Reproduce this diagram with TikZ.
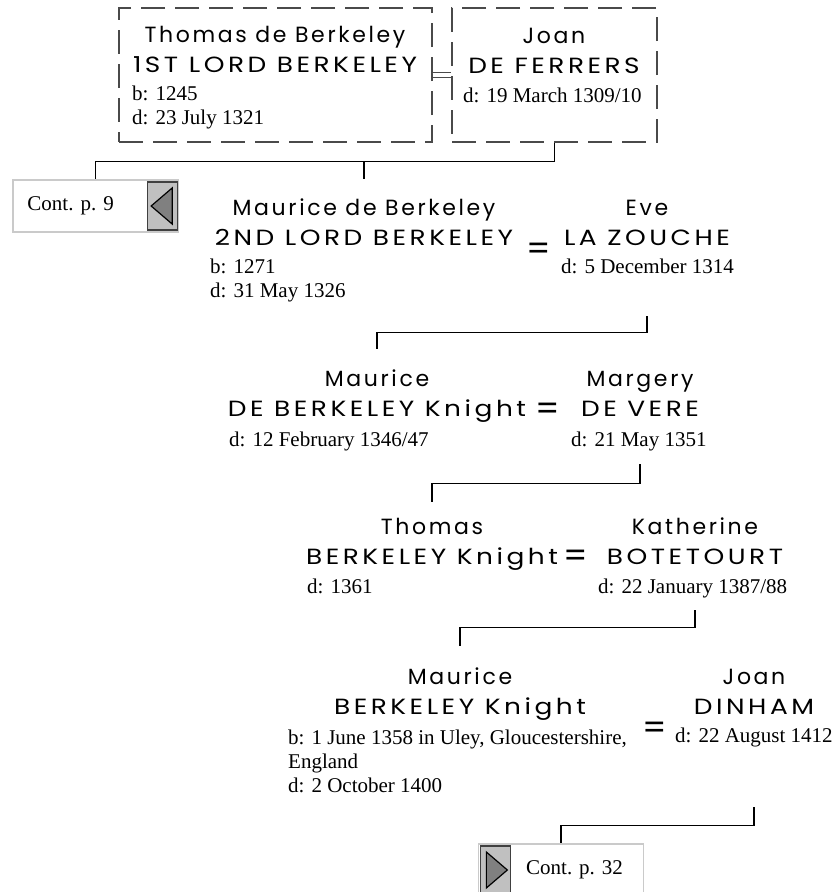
\documentclass[tikz,border=0pt]{standalone}
\usepackage{xcolor}
\usepackage{fontspec}
\setmainfont{Liberation Serif}
\newfontfamily\namefont{Poppins}[LetterSpace=12]
\newfontfamily\surfont{Poppins}[FakeStretch=1.2, LetterSpace=16]
\usepackage{tikz}
\usetikzlibrary{positioning, arrows.meta}
\definecolor{btngray}{HTML}{C0C0C0}
\definecolor{tipgray}{HTML}{808080}
\definecolor{framegray}{HTML}{CACACA}
\definecolor{dashgray}{HTML}{4A4A4A}

\newcommand\sur[1]{{\surfont #1}}

\tikzset{
  names/.style={font={\namefont\fontsize{22}{30}\selectfont}, align=center, anchor=base, inner sep=0pt},
  dates/.style={font={\fontsize{21}{24}\selectfont}, align=left, anchor=base west, inner sep=0pt},
  wed/.style={font={\namefont\fontsize{34}{34}\selectfont}, inner sep=0pt},
  famebox/.style={draw=dashgray, line width=1.3pt, dash pattern=on 24pt off 10pt,
                  minimum height=134pt, inner sep=0pt},
  wedline/.style={draw=dashgray, double, double distance=4.5pt, line width=0.8pt},
  famline/.style={draw, line width=1.4pt},
  contbox/.style={draw=framegray, line width=1.5pt, fill=white,
                  minimum width=165pt, minimum height=52pt, inner sep=0pt},
  navbtn/.style={draw=black!75, line width=1.2pt, fill=btngray,
                 minimum width=30pt, minimum height=48pt, inner sep=0pt},
  navtip/.style={draw=black, line width=1.2pt, fill=tipgray, line join=miter},
  conttext/.style={font={\fontsize{21}{24}\selectfont}, anchor=west, inner sep=0pt}
}

\begin{document}
\begin{tikzpicture}[x=1pt, y=1pt]
    \useasboundingbox (0,0) rectangle (840,-892);

    \node[famebox, minimum width=313pt] (tbox) at (275.5,-75) {};
    \node[famebox, minimum width=205pt] (jbox) at (554.5,-75) {};
    \draw[wedline] (tbox.east) -- (jbox.west);
    \node[names] (thomas) at (275,-72) {Thomas de Berkeley\\\sur{1ST LORD BERKELEY}};
    \node[dates] (thomasd) at (132,-124) {b: 1245\\d: 23 July 1321};
    \node[names] (joan) at (554,-73) {Joan\\\sur{DE FERRERS}};
    \node[dates] (joand) at (463,-102) {d: 19 March 1309/10};

    \node[contbox] (cont9) at (95.5,-206) {};
    \node[navbtn, left=1pt of cont9.east] (back9) {};
    \draw[navtip] ([xshift=-11pt]back9.center) -- ++(21,18) -- ++(0,-36) -- cycle;
    \node[conttext, right=15pt of cont9.west] (cont9t) {Cont. p. 9};

    \node[names] (maur2) at (364,-245) {Maurice de Berkeley\\\sur{2ND LORD BERKELEY}};
    \node[dates] (maur2d) at (210,-297) {b: 1271\\d: 31 May 1326};
    \node[wed] (wed2) at (539,-252) {=};
    \node[names] (eve) at (647,-245) {Eve\\\sur{LA ZOUCHE}};
    \node[dates] (eved) at (561,-273) {d: 5 December 1314};

    \node[names] (maur3) at (377,-416) {Maurice\\\sur{DE BERKELEY Knight}};
    \node[dates] (maur3d) at (229,-446) {d: 12 February 1346/47};
    \node[wed] (wed3) at (548,-412) {=};
    \node[names] (marg) at (640,-416) {Margery\\\sur{DE VERE}};
    \node[dates] (margd) at (571,-446) {d: 21 May 1351};

    \node[names] (thom4) at (432,-564) {Thomas\\\sur{BERKELEY Knight}};
    \node[dates] (thom4d) at (307,-593) {d: 1361};
    \node[wed] (wed4) at (576,-559) {=};
    \node[names] (kath) at (695,-564) {Katherine\\\sur{BOTETOURT}};
    \node[dates] (kathd) at (598,-593) {d: 22 January 1387/88};

    \node[names] (maur5) at (460,-714) {Maurice\\\sur{BERKELEY Knight}};
    \node[dates] (maur5d) at (288,-792) {b: 1 June 1358 in Uley, Gloucestershire,\\England\\d: 2 October 1400};
    \node[wed] (wed5) at (655,-731) {=};
    \node[names] (joan5) at (754,-714) {Joan\\\sur{DINHAM}};
    \node[dates] (joan5d) at (675,-742) {d: 22 August 1412};

    \node[contbox] (cont32) at (561,-870) {};
    \node[navbtn, right=2pt of cont32.west] (fwd32) {};
    \draw[navtip] ([xshift=-9pt, yshift=18pt]fwd32.center) -- ++(21,-18) -- ++(-21,-18) -- cycle;
    \node[conttext, right=15pt of fwd32] (cont32t) {Cont. p. 32};

    \draw[famline] (jbox.south) -- ++(0,-19) coordinate (bar1) -| (cont9.north);
    \draw[famline, shorten >=19pt] (bar1 -| maur2.north) -- (maur2.north);
    \draw[famline] ([yshift=-71pt]eve.south) -- ++(0,-16) -| ([yshift=20pt]maur3.north);
    \draw[famline] ([yshift=-48pt]marg.south) -- ++(0,-19) -| ([yshift=16pt]thom4.north);
    \draw[famline] ([yshift=-46pt]kath.south) -- ++(0,-17) -| ([yshift=21pt]maur5.north);
    \draw[famline] ([yshift=-93pt]joan5.south) -- ++(0,-18) -| (cont32.north);
\end{tikzpicture}
\end{document}
